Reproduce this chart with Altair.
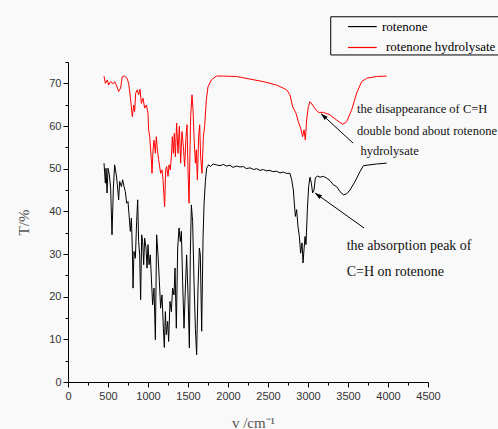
import altair as alt
import pandas as pd

# ---- data ----
rot_wn = [450,467,475,488,500,517,533,550,567,583,
          604,617,633,646,667,683,700,717,733,750,
          763,779,792,804,813,825,842,858,871,883,
          896,908,921,933,946,958,975,988,1000,1013,
          1029,1042,1058,1075,1092,1108,1125,1142,1158,1175,
          1192,1204,1217,1229,1246,1258,1275,1292,1308,1325,
          1338,1354,1371,1388,1404,1417,1433,1450,1467,1483,
          1500,1517,1529,1542,1558,1575,1592,1608,1625,1642,
          1654,1671,1688,1700,1717,1733,1758,1783,1813,1854,
          1900,1942,1980,2025,2060,2108,2150,2192,2230,2275,
          2320,2358,2400,2442,2480,2525,2560,2608,2650,2692,
          2730,2775,2796,2817,2829,2842,2858,2875,2892,2908,
          2925,2938,2950,2963,2975,2992,3008,3025,3042,3058,
          3075,3092,3117,3150,3192,3233,3275,3317,3358,3400,
          3442,3483,3525,3588,3650,3692,3775,3858,3983]
rot_t = [51.3,46.6,50.1,44.3,50.1,48.5,45.4,34.5,45.4,50.9,
         48.5,46.2,42.7,47.0,45.8,47.4,45.8,44.6,41.9,42.3,
         39.2,35.3,38.4,31.4,22.0,30.6,29.0,37.6,42.7,32.9,
         29.8,19.3,34.5,32.9,27.5,33.7,31.4,26.7,32.2,27.5,
         29.8,24.4,18.1,22.0,9.9,34.5,29.8,23.6,17.3,20.4,
         12.6,8.1,16.5,11.1,14.2,9.5,18.9,16.5,22.0,20.4,
         26.7,12.6,31.4,36.1,32.9,35.3,23.6,12.6,22.0,29.8,
         20.4,8.0,29.8,41.5,37.6,23.6,12.6,6.4,22.0,31.4,
         29.8,11.9,33.7,41.5,47.0,50.1,50.9,50.5,51.1,50.9,
         50.7,51.0,50.6,50.8,50.3,50.6,50.4,50.5,50.0,50.2,
         49.8,50.0,49.6,49.8,49.5,49.6,49.3,49.4,49.0,49.2,
         48.9,48.9,47.4,45.0,41.9,38.8,40.4,36.4,34.1,30.2,
         32.6,27.9,31.0,34.1,32.2,40.4,45.8,48.0,46.6,44.3,
         45.0,47.8,48.3,48.0,48.2,47.8,47.2,46.2,45.8,44.6,
         43.9,44.1,45.0,47.0,49.3,50.7,50.9,51.1,51.3]

hyd_wn = [450,467,492,508,533,563,583,604,633,658,
          679,708,738,758,779,792,804,821,833,846,
          867,883,900,917,938,958,979,1000,1008,1021,
          1033,1042,1050,1063,1075,1092,1104,1117,1133,1146,
          1158,1175,1188,1200,1208,1221,1233,1250,1263,1279,
          1292,1304,1317,1329,1342,1358,1375,1392,1408,1425,
          1442,1458,1475,1488,1500,1513,1533,1550,1563,1575,
          1592,1604,1617,1633,1646,1658,1675,1692,1708,1729,
          1750,1792,1854,1942,2108,2275,2442,2608,2733,2775,
          2808,2850,2879,2908,2933,2950,2967,2983,3004,3025,
          3058,3100,3129,3192,3275,3358,3433,3483,3546,3608,
          3671,3733,3858,3983]
hyd_t = [71.7,70.0,70.8,69.6,70.4,69.9,70.4,69.6,68.1,68.9,
         71.6,71.7,71.2,70.0,66.9,64.5,62.2,64.9,63.4,67.7,
         68.5,67.3,68.6,65.3,66.5,64.2,64.9,63.0,59.1,57.5,
         54.4,52.1,48.9,54.4,56.7,53.6,57.5,54.4,52.1,50.5,
         48.9,49.7,47.4,43.5,41.1,49.7,50.5,48.2,50.9,49.7,
         52.8,57.5,53.6,58.3,52.8,60.7,53.6,59.9,51.3,58.7,
         55.2,50.5,57.5,60.3,49.7,41.9,62.2,67.3,63.8,57.5,
         51.3,54.4,47.4,57.5,60.3,52.8,48.9,57.5,59.9,66.1,
         69.2,70.8,71.7,71.7,71.6,71.0,70.4,69.6,68.5,67.3,
         64.5,63.0,61.0,59.5,57.5,59.1,56.7,61.4,64.5,65.7,
         64.9,63.8,63.2,63.2,62.6,61.4,60.4,61.0,63.8,67.7,
         70.4,71.2,71.6,71.7]

series_names = ["rotenone", "rotenone hydrolysate"]
series_colors = ["black", "#ff0000"]

x_ticks = list(range(0, 4501, 250))
y_ticks = list(range(0, 76, 5))

# annotation texts (data coordinates)
ann_text = ["the disappearance of C=H", "double bond about rotenone", "hydrolysate",
            "the absorption peak of", "C=H on rotenone"]
ann_x = [3613, 3613, 3655, 3484, 3484]
ann_y = [64.0, 58.9, 54.2, 31.9, 25.8]
ann_size = [12.5, 12.5, 12.5, 14, 14]

# arrows: tail -> head
arr_x = [3563, 3700]
arr_y = [56.0, 36.1]
arr_x2 = [3163, 3088]
arr_y2 = [62.9, 44.3]
arr_angle = [313.5, 305.5]

# legend (data coordinates)
leg_box = dict(x=[3284], x2=[5450], y=[76.65], y2=[85.6])
leg_line_x = [3500, 3500]
leg_line_x2 = [3859, 3859]
leg_line_y = [83.3, 78.4]
leg_label_x = [3925, 3975]
leg_labels = ["rotenone", " rotenone hydrolysate"]

# ---- tables ----
rows = []
for i, (w, t) in enumerate(zip(hyd_wn, hyd_t)):
    rows.append({"wn": w, "t": t, "series": series_names[1], "i": i})
for i, (w, t) in enumerate(zip(rot_wn, rot_t)):
    rows.append({"wn": w, "t": t, "series": series_names[0], "i": i})
df = pd.DataFrame(rows)

xscale = alt.Scale(domain=[0, 4500], nice=False, zero=False)
yscale = alt.Scale(domain=[0, 75], nice=False, zero=False)
cscale = alt.Scale(domain=series_names, range=series_colors)

serif = "Liberation Serif"
sans = "Liberation Sans"

x_axis = alt.Axis(
    values=x_ticks, format="d",
    labelExpr="datum.value % 500 === 0 ? datum.label : ''",
    tickSize={"condition": {"test": "datum.value % 500 === 0", "value": 5}, "value": 3},
    title="v /cm⁻¹", titleFont=serif, titleFontSize=15, titleFontWeight="normal",
    titleColor="#555", titleX=185, titleY=45, titleBaseline="alphabetic", titleAnchor="middle",
    labelFont=sans, labelFontSize=11, labelColor="#333", labelPadding=3,
    domainColor="black", tickColor="black", grid=False, labelFlush=False, labelOverlap=False,
)
y_axis = alt.Axis(
    values=y_ticks, format="d",
    labelExpr="datum.value % 10 === 0 ? datum.label : ''",
    tickSize={"condition": {"test": "datum.value % 10 === 0", "value": 5}, "value": 3},
    title="T/%", titleFont=serif, titleFontSize=15, titleFontWeight="normal",
    titleColor="#555", titleAngle=270, titleX=-40, titleY=160,
    titleBaseline="alphabetic", titleAlign="center",
    labelFont=sans, labelFontSize=11, labelColor="#333", labelPadding=2,
    domainColor="black", tickColor="black", grid=False, labelFlush=False, labelOverlap=False,
)


def X(field):
    return alt.X(field, scale=xscale, axis=x_axis)


def Y(field):
    return alt.Y(field, scale=yscale, axis=y_axis)


lines = alt.Chart(df).mark_line(strokeWidth=1, clip=False).encode(
    x=X("wn:Q"), y=Y("t:Q"),
    color=alt.Color("series:N", scale=cscale, legend=None),
    detail="series:N",
    order="i:Q",
)

ann_df = pd.DataFrame({"x": ann_x, "y": ann_y, "text": ann_text, "size": ann_size})
ann_small = alt.Chart(ann_df[ann_df["size"] < 13]).mark_text(
    align="left", baseline="middle", font=serif, fontSize=12.5, color="#111"
).encode(x=X("x:Q"), y=Y("y:Q"), text="text:N")
ann_big = alt.Chart(ann_df[ann_df["size"] >= 13]).mark_text(
    align="left", baseline="middle", font=serif, fontSize=14, color="#111"
).encode(x=X("x:Q"), y=Y("y:Q"), text="text:N")

arr_df = pd.DataFrame({"x": arr_x, "y": arr_y, "x2": arr_x2, "y2": arr_y2, "angle": arr_angle})
arrow_lines = alt.Chart(arr_df).mark_rule(color="black", strokeWidth=1).encode(
    x=X("x:Q"), y=Y("y:Q"), x2="x2:Q", y2="y2:Q",
)
arrow_heads = alt.Chart(arr_df).mark_point(
    shape="M0,0L-0.45,1.4L0.45,1.4Z", filled=True, color="black", opacity=1, size=100
).encode(
    x=X("x2:Q"), y=Y("y2:Q"),
    angle=alt.Angle("angle:Q", scale=None),
)

box = alt.Chart(pd.DataFrame(leg_box)).mark_rect(fill="#f9f9f9", stroke="black", strokeWidth=1).encode(
    x=X("x:Q"), x2="x2:Q", y=Y("y:Q"), y2="y2:Q",
)
leg_df = pd.DataFrame({"x": leg_line_x, "x2": leg_line_x2, "y": leg_line_y,
                       "lx": leg_label_x, "label": leg_labels, "col": series_colors})
leg_lines = alt.Chart(leg_df).mark_rule(strokeWidth=1.2).encode(
    x=X("x:Q"), x2="x2:Q", y=Y("y:Q"),
    stroke=alt.Stroke("col:N", scale=None),
)
leg_text = alt.Chart(leg_df).mark_text(align="left", baseline="middle", font=serif, fontSize=13, color="black").encode(
    x=X("lx:Q"), y=Y("y:Q"), text="label:N",
)

chart = alt.layer(lines, arrow_lines, arrow_heads, ann_small, ann_big, box, leg_lines, leg_text).properties(
    width=360, height=320,
    autosize=alt.AutoSizeParams(type="none"),
    padding={"left": 68, "top": 62, "right": 70, "bottom": 47},
    background="#f9f9f9",
).configure_view(stroke=None)

chart.save("out.html", embed_options={"renderer": "svg", "actions": False})
